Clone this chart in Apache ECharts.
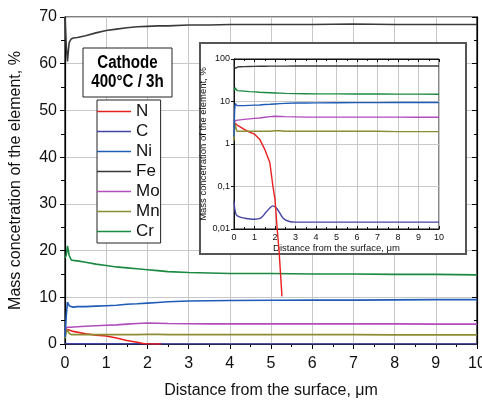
<!DOCTYPE html>
<html><head><meta charset="utf-8">
<script src="https://cdn.jsdelivr.net/npm/echarts@6/dist/echarts.min.js"></script>
<style>html,body{margin:0;padding:0;background:#fff}#c{width:482px;height:403px}</style>
</head><body><div id="c"></div>
<script>
// ---- data ----
const distance = [0,0.03,0.06,0.1,0.15,0.2,0.3,0.5,0.75,1,1.25,1.5,1.75,2,2.25,2.5,3,3.5,4,5,6,7,8,9,10];
const Fe = [70,64,60.5,64.5,65.3,65.5,65.6,66,66.6,67.1,67.4,67.7,67.9,68,68.1,68.1,68.3,68.3,68.4,68.4,68.4,68.5,68.4,68.4,68.4];
const Cr = [18.4,19,21,19,18,17.9,17.8,17.5,17.1,16.8,16.5,16.3,16.1,15.9,15.7,15.5,15.3,15.2,15.1,15.1,15.0,15.0,14.9,14.9,14.8];
const Ni = [1.5,6,9,8.2,8.0,7.9,8.0,8.0,8.1,8.2,8.3,8.5,8.6,8.75,8.9,9.05,9.2,9.25,9.3,9.35,9.4,9.4,9.45,9.5,9.5];
const Mo = [3.3,3.5,3.6,3.6,3.6,3.65,3.7,3.8,3.9,4.0,4.1,4.25,4.4,4.5,4.45,4.4,4.35,4.3,4.3,4.3,4.3,4.3,4.3,4.25,4.25];
const Mn = [1.2,2.5,3.0,2.3,2.0,2.0,2.0,2.0,2.0,2.0,2.0,2.0,2.0,2.05,2.05,2.0,2.0,2.0,2.0,2.0,2.0,2.0,1.95,1.95,1.95];
const cDistance = [0,0.1,0.3,0.5,1,1.3,1.6,1.9,2.1,2.4,2.7,3,4,5,6,7,8,9,10];
const C = [0.045,0.022,0.019,0.018,0.017,0.018,0.026,0.035,0.03,0.018,0.015,0.0145,0.0145,0.0145,0.0145,0.0145,0.0145,0.0145,0.0145];
const nDistance = [0,0.05,0.1,0.2,0.5,0.75,1,1.25,1.5,1.75,1.9,2.0,2.1,2.2,2.34];
const N = [2.6,3.1,3.0,2.7,2.2,1.9,1.7,1.3,0.75,0.36,0.1,0.05,0.011,0.003,0.00026];
const legendNames = ['N','C','Ni','Fe','Mo','Mn','Cr'];

const colors = {N:'#e8201e', C:'#4444a6', Ni:'#1e5cb8', Fe:'#3a3a3a', Mo:'#b04cbc', Mn:'#8c8c32', Cr:'#1a8a40'};
const FONT = '"Liberation Sans", Arial, sans-serif';

function pairs(xs, ys){ return ys.map((v,i)=>[xs[i], v]); }
const seriesData = {
  N: pairs(nDistance, N), C: pairs(cDistance, C), Ni: pairs(distance, Ni), Fe: pairs(distance, Fe),
  Mo: pairs(distance, Mo), Mn: pairs(distance, Mn), Cr: pairs(distance, Cr)
};
const drawOrder = ['C','N','Mn','Mo','Ni','Cr','Fe'];

const series = [];
drawOrder.forEach(n => series.push({
  name:n, type:'line', xAxisIndex:0, yAxisIndex:0, data:seriesData[n], showSymbol:false, symbol:'none',
  lineStyle:{color:colors[n], width:1.6}, itemStyle:{color:colors[n]}, z:2, animation:false
}));
drawOrder.forEach(n => series.push({
  name:n, type:'line', xAxisIndex:1, yAxisIndex:2, data:seriesData[n], showSymbol:false, symbol:'none',
  lineStyle:{color:colors[n], width:1.4}, itemStyle:{color:colors[n]}, z:6, clip: n!=='N', animation:false,
  smooth: n==='C' ? 0.3 : false
}));

const gridLine = {show:true, lineStyle:{color:'#c8c8c8', width:1}};
const blackLine = {show:true, lineStyle:{color:'#000', width:1.2}};

const option = {
  animation:false,
  backgroundColor:'#fff',
  grid:[
    {left:65, top:17, right:5, bottom:59, show:true, borderColor:'#000', borderWidth:1.2, backgroundColor:'transparent', outerBoundsMode:'none', containLabel:false},
    {left:234, top:59, width:205, height:170, show:true, borderColor:'#111', borderWidth:1, backgroundColor:'transparent', z:3, outerBoundsMode:'none', containLabel:false}
  ],
  xAxis:[
    {gridIndex:0, type:'value', min:0, max:10, interval:1, axisLine:blackLine,
     axisTick:{show:true, length:5, lineStyle:{color:'#000'}}, minorTick:{show:true, splitNumber:2, length:3, lineStyle:{color:'#000'}},
     splitLine:gridLine, axisLabel:{fontSize:16, color:'#111', margin:12, fontFamily:FONT},
     name:'Distance from the surface, \u03bcm', nameLocation:'middle', nameGap:39,
     nameTextStyle:{fontSize:16, color:'#111', fontFamily:FONT}},
    {gridIndex:1, type:'value', min:0, max:10, interval:1, z:4, axisLine:{show:true, lineStyle:{color:'#111', width:1}},
     axisTick:{show:true, inside:true, length:3, lineStyle:{color:'#111'}}, minorTick:{show:true, splitNumber:2, length:2, lineStyle:{color:'#111'}},
     splitLine:gridLine, axisLabel:{fontSize:9, color:'#111', margin:4, fontFamily:FONT},
     name:'Distance from the surface, \u03bcm', nameLocation:'middle', nameGap:13,
     nameTextStyle:{fontSize:9.5, color:'#111', fontFamily:FONT}},
    {gridIndex:1, type:'value', min:0, max:10, interval:1, position:'top', z:4, axisLine:{show:true, lineStyle:{color:'#111', width:1}},
     axisTick:{show:true, inside:true, length:3, lineStyle:{color:'#111'}}, minorTick:{show:true, splitNumber:2, length:2, lineStyle:{color:'#111'}},
     splitLine:{show:false}, axisLabel:{show:false}}
  ],
  yAxis:[
    {gridIndex:0, type:'value', min:0, max:70, interval:10, axisLine:blackLine,
     axisTick:{show:true, length:5, lineStyle:{color:'#000'}}, minorTick:{show:true, splitNumber:2, length:4, lineStyle:{color:'#000'}},
     splitLine:gridLine, axisLabel:{fontSize:16, color:'#111', margin:8, fontFamily:FONT},
     name:'Mass concetration of the element, %', nameLocation:'middle', nameGap:41,
     nameTextStyle:{fontSize:16, color:'#111', fontFamily:FONT}},
    {gridIndex:0, type:'value', min:0, max:70, interval:10, position:'right', axisLine:blackLine,
     axisTick:{show:true, inside:true, length:5, lineStyle:{color:'#000'}}, minorTick:{show:true, splitNumber:2, length:3, lineStyle:{color:'#000'}},
     splitLine:{show:false}, axisLabel:{show:false}},
    {gridIndex:1, type:'log', logBase:10, min:0.01, max:100, z:4, axisLine:{show:true, lineStyle:{color:'#111', width:1}},
     axisTick:{show:true, length:3, lineStyle:{color:'#111'}},
     splitLine:gridLine, axisLabel:{fontSize:9, color:'#111', margin:4, fontFamily:FONT,
       formatter: v => String(+(+v).toPrecision(3)).replace('.', ',')},
     name:'Mass concetration of the element, %', nameLocation:'middle', nameGap:22,
     nameTextStyle:{fontSize:9.5, color:'#111', fontFamily:FONT}},
    {gridIndex:1, type:'log', logBase:10, min:0.01, max:100, position:'right', z:4, axisLine:{show:true, lineStyle:{color:'#111', width:1}},
     axisTick:{show:true, inside:true, length:3, lineStyle:{color:'#111'}},
     splitLine:{show:false}, axisLabel:{show:false}}
  ],
  legend:{
    data:legendNames, orient:'vertical', left:97, top:100, icon:'rect', itemWidth:34, itemHeight:1.6, itemGap:3,
    padding:[3,1,3,0], backgroundColor:'#fff', borderColor:'#222', borderWidth:1, selectedMode:false,
    textStyle:{fontSize:17, color:'#111', fontFamily:FONT, lineHeight:17}, z:6
  },
  graphic:[
    {type:'rect', z:1, shape:{x:200, y:43, width:266, height:211}, style:{fill:'#fff', stroke:'#555', lineWidth:2}},
    {type:'rect', z:5, shape:{x:83, y:48, width:89, height:49}, style:{fill:'#fff', stroke:'#222', lineWidth:1}},
    {type:'text', z:6, x:127.5, y:63, scaleX:0.84,
     style:{text:'Cathode', font:'bold 18px "Liberation Sans", Arial, sans-serif', fill:'#000', align:'center', verticalAlign:'middle', textAlign:'center', textVerticalAlign:'middle'}},
    {type:'text', z:6, x:127.5, y:82, scaleX:0.84,
     style:{text:'400\u00b0C / 3h', font:'bold 18px "Liberation Sans", Arial, sans-serif', fill:'#000', align:'center', verticalAlign:'middle', textAlign:'center', textVerticalAlign:'middle'}}
  ],
  series: series
};
const chart = echarts.init(document.getElementById('c'), null, {renderer:'canvas'});
chart.setOption(option);
</script>
</body></html>
